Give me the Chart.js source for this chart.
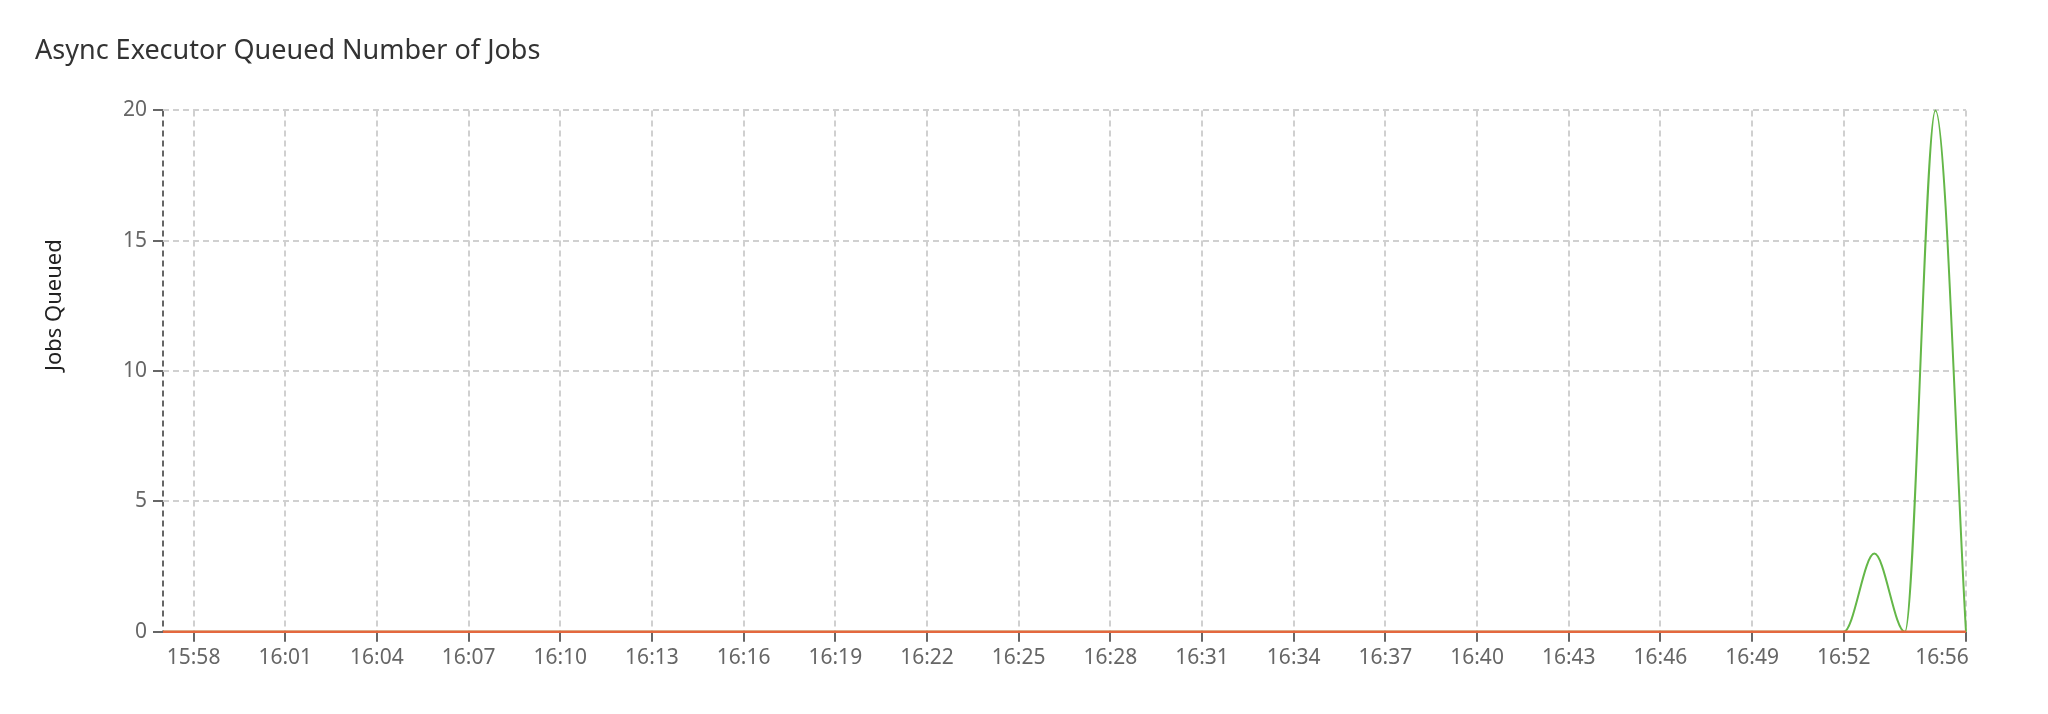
<!DOCTYPE html>
<html lang="en">
<head>
<meta charset="UTF-8">
<title>Async Executor Queued Number of Jobs</title>
<script src="https://cdn.jsdelivr.net/npm/chart.js@4.4.1/dist/chart.umd.min.js"></script>
<style>
    html, body { margin: 0; padding: 0; background: #fff; }
    #wrap { width: 2048px; height: 714px; }
</style>
</head>
<body>
<div id="wrap"><canvas id="queueChart"></canvas></div>
<script>
// one sample per minute
const times = [
    '15:57', '15:58', '15:59', '16:00', '16:01', '16:02', '16:03', '16:04', '16:05', '16:06',
    '16:07', '16:08', '16:09', '16:10', '16:11', '16:12', '16:13', '16:14', '16:15', '16:16',
    '16:17', '16:18', '16:19', '16:20', '16:21', '16:22', '16:23', '16:24', '16:25', '16:26',
    '16:27', '16:28', '16:29', '16:30', '16:31', '16:32', '16:33', '16:34', '16:35', '16:36',
    '16:37', '16:38', '16:39', '16:40', '16:41', '16:42', '16:43', '16:44', '16:45', '16:46',
    '16:47', '16:48', '16:49', '16:50', '16:51', '16:52', '16:53', '16:54', '16:55', '16:56'
];

// green series
const queuedJobs = [
    0, 0, 0, 0, 0, 0, 0, 0, 0, 0,
    0, 0, 0, 0, 0, 0, 0, 0, 0, 0,
    0, 0, 0, 0, 0, 0, 0, 0, 0, 0,
    0, 0, 0, 0, 0, 0, 0, 0, 0, 0,
    0, 0, 0, 0, 0, 0, 0, 0, 0, 0,
    0, 0, 0, 0, 0, 0, 3, 0, 20, 0
];

// orange series (flat at zero)
const otherJobs = [
    0, 0, 0, 0, 0, 0, 0, 0, 0, 0,
    0, 0, 0, 0, 0, 0, 0, 0, 0, 0,
    0, 0, 0, 0, 0, 0, 0, 0, 0, 0,
    0, 0, 0, 0, 0, 0, 0, 0, 0, 0,
    0, 0, 0, 0, 0, 0, 0, 0, 0, 0,
    0, 0, 0, 0, 0, 0, 0, 0, 0, 0
];

// labelled ticks on the time axis
const tickTimes = [
    '15:58', '16:01', '16:04', '16:07', '16:10', '16:13', '16:16', '16:19', '16:22', '16:25',
    '16:28', '16:31', '16:34', '16:37', '16:40', '16:43', '16:46', '16:49', '16:52', '16:56'
];
const yTicks = [0, 5, 10, 15, 20];

Chart.defaults.font.family = "'Noto Sans', sans-serif";

const gridGray = '#d0d0d0';
const axisGray = '#666';

const ctx = document.getElementById('queueChart').getContext('2d');
const queueChart = new Chart(ctx, {
    type: 'line',
    data: {
        labels: times,
        datasets: [
            {
                label: 'Other',
                data: otherJobs,
                borderColor: '#e4683f',
                borderWidth: 2.5,
                pointRadius: 0,
                clip: false,
                fill: false
            },
            {
                label: 'Queued',
                data: queuedJobs,
                borderColor: '#64b748',
                borderWidth: 2,
                pointRadius: 0,
                cubicInterpolationMode: 'monotone',
                clip: false,
                fill: false
            }
        ]
    },
    options: {
        responsive: true,
        maintainAspectRatio: false,
        animation: false,
        devicePixelRatio: 1,
        layout: { padding: { left: 35, right: 82, top: 0, bottom: 39 } },
        plugins: {
            legend: { display: false },
            tooltip: { enabled: false },
            title: {
                display: true,
                text: 'Async Executor Queued Number of Jobs',
                align: 'start',
                color: '#333',
                font: { size: 27, weight: 'normal' },
                padding: { top: 35, bottom: 43 }
            }
        },
        scales: {
            x: {
                type: 'category',
                // first (unlabelled) tick gives the dark line at the left edge
                afterBuildTicks: scale => {
                    scale.ticks = [times[0]].concat(tickTimes).map(t => ({ value: times.indexOf(t) }));
                },
                ticks: {
                    autoSkip: false,
                    maxRotation: 0,
                    color: axisGray,
                    font: { size: 21 },
                    padding: 4,
                    callback: function (value, index, ticks) {
                        if (index === 0) return '';
                        const label = this.getLabelForValue(value);
                        // last label sits flush with the right edge
                        return index === ticks.length - 1 ? label + '\u2007\u2007\u2007\u2007' : label;
                    }
                },
                grid: {
                    color: c => c.index === 0 ? axisGray : gridGray,
                    lineWidth: 2,
                    tickLength: 10,
                    tickWidth: 2,
                    tickColor: c => c.index === 0 ? 'rgba(0,0,0,0)' : axisGray
                },
                border: { display: false, dash: [6, 4] }
            },
            y: {
                min: 0,
                max: 20,
                afterBuildTicks: scale => {
                    scale.ticks = yTicks.map(v => ({ value: v }));
                },
                afterFit: scale => { scale.width = 128; },
                title: {
                    display: true,
                    text: '\u2002\u2002\u2002\u2002\u2002\u2002\u2002\u2002\u2002\u2002\u2002\u2002Jobs Queued',
                    color: '#222',
                    font: { size: 22 },
                    padding: { top: 7, bottom: 0 }
                },
                ticks: {
                    color: axisGray,
                    font: { size: 21 },
                    padding: 6
                },
                grid: {
                    color: gridGray,
                    lineWidth: 2,
                    tickLength: 10,
                    tickWidth: 2,
                    tickColor: axisGray
                },
                border: { display: false, dash: [6, 4] }
            }
        }
    }
});
</script>
</body>
</html>
